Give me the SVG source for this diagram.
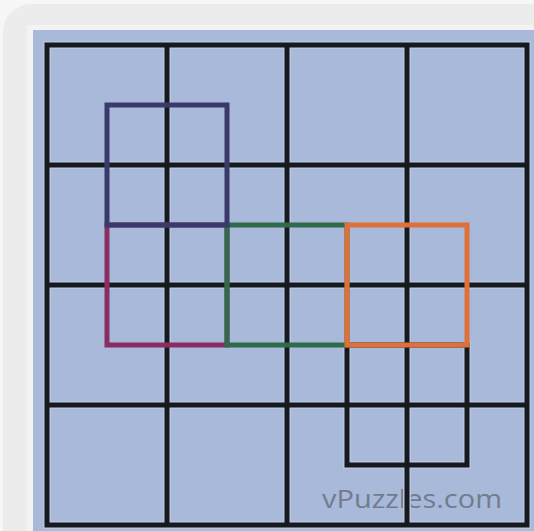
<svg xmlns="http://www.w3.org/2000/svg" width="534" height="531" viewBox="0 0 534 531">
  <style>
    .halo { stroke: #b8c6e2; stroke-width: 8; fill: none; stroke-linecap: square; }
    .grid { stroke: #161a1e; stroke-width: 5; fill: none; stroke-linecap: square; }
    .sq { fill: none; stroke-width: 5; stroke-linejoin: miter; stroke-linecap: square; }
    .wm { font-family: "Open Sans", "Liberation Sans", sans-serif; font-size: 26px; fill: #737c8e; }
  </style>
  <rect x="0" y="0" width="534" height="531" fill="#f7f7f7"/>
  <g id="frame">
    <rect x="3" y="4" width="580" height="580" rx="28" fill="#ececec"/>
    <rect x="27" y="25" width="520" height="520" fill="#f3f3f3"/>
    <rect x="33" y="30" width="501" height="501" fill="#a8b9da"/>
  </g>
  <g id="watermark">
    <text class="wm" x="322" y="508" textLength="180" lengthAdjust="spacingAndGlyphs">vPuzzles.com</text>
  </g>
  <g id="grid-halo" class="halo">
    <path d="M47 45V525M167 45V525M287 45V525M407 45V525M527 45V525M47 45H527M47 165H527M47 285H527M47 405H527M47 525H527"/>
    <path d="M347 345V465H467V345"/>
  </g>
  <g id="grid" class="grid">
    <path d="M47 45V525M167 45V525M287 45V525M407 45V525M527 45V525M47 45H527M47 165H527M47 285H527M47 405H527M47 525H527"/>
  </g>
  <g id="square-black">
    <rect class="sq" x="347" y="345" width="120" height="120" stroke="#161a1e"/>
  </g>
  <g id="square-magenta">
    <rect class="sq" x="107" y="225" width="120" height="120" stroke="#8c2d62"/>
  </g>
  <g id="square-green">
    <rect class="sq" x="227" y="225" width="120" height="120" stroke="#2f6a4b"/>
  </g>
  <g id="square-orange">
    <rect class="sq" x="347" y="225" width="120" height="120" stroke="#e0703a"/>
  </g>
  <g id="square-purple">
    <rect class="sq" x="107" y="105" width="120" height="120" stroke="#3a3a6a"/>
  </g>
</svg>
